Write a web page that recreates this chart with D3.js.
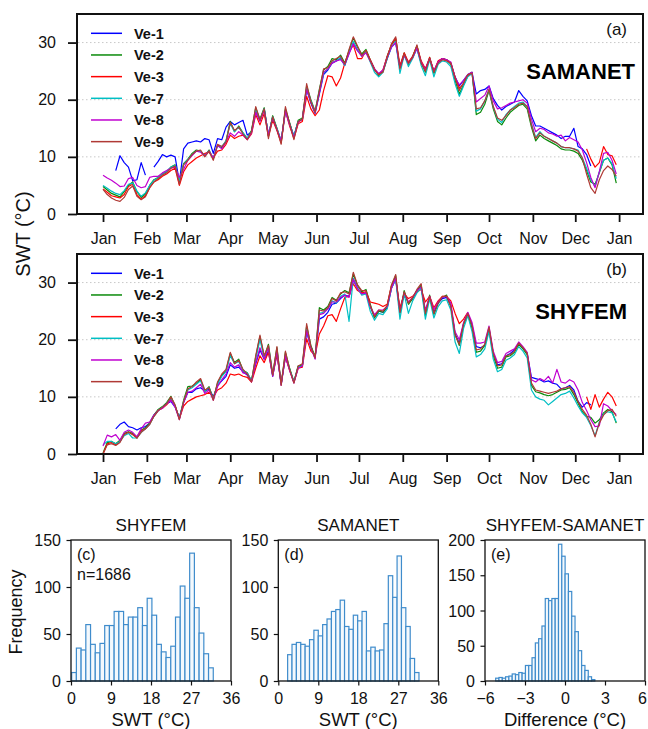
<!DOCTYPE html>
<html><head><meta charset="utf-8">
<script src="https://cdn.jsdelivr.net/npm/d3@7"></script>
<style>
body{margin:0;background:#fff;}
svg{font-family:"Liberation Sans",Arial,sans-serif;}
</style>
</head><body>
<svg id="chart" width="648" height="729"></svg>
<script>
// ---------------- DATA ----------------
const stations = ["Ve-1","Ve-2","Ve-3","Ve-7","Ve-8","Ve-9"];
const stationColors = ["#0000ff","#0a8a0a","#ff0000","#00bfc4","#c000d0","#b03a35"];
const monthStartDays = [0,31,59,90,120,151,181,212,243,273,304,334,365];
const monthLabels = ["Jan","Feb","Mar","Apr","May","Jun","Jul","Aug","Sep","Oct","Nov","Dec","Jan"];
const sampleDays = d3.range(0, 364, 3); // one value every 3 days
const tsTicks = [0,10,20,30];

// SAMANET (a)
const samanetVe1 = [
null,null,null,7.6,10.2,9.0,8.2,5.8,6.0,9.0,
6.8,null,8.2,9.2,10.4,10.0,10.3,10.0,5.6,11.4,
12.4,12.6,12.8,12.6,13.2,13.0,10.6,13.2,13.0,15.2,
16.2,15.6,16.0,16.4,13.8,14.4,18.0,16.4,18.4,13.8,
17.0,14.8,12.8,18.2,15.8,13.6,16.2,16.6,21.8,19.4,
17.6,21.0,24.4,25.2,26.4,26.8,27.2,26.0,28.2,29.8,
28.6,27.8,28.4,26.8,25.2,24.4,25.0,27.2,29.2,30.0,
25.6,27.8,26.4,27.4,29.0,26.4,25.4,27.2,25.0,26.6,
27.2,27.0,26.4,24.0,22.4,23.4,24.4,24.8,21.0,21.6,
21.8,22.4,20.2,19.0,18.2,18.8,19.2,19.6,21.6,20.6,
19.8,17.2,15.4,15.4,15.0,14.6,14.2,13.8,13.2,13.6,
13.6,15.0,11.8,11.4,10.4,8.4,null,null,null,null,
null,null];
const samanetVe2 = [
4.8,4.2,3.6,3.3,3.0,3.9,5.0,5.6,3.9,2.9,
3.5,5.0,6.0,6.4,7.0,7.4,8.2,8.6,5.8,8.8,
9.6,10.6,11.2,11.0,10.2,11.2,9.6,12.0,11.6,12.8,
16.2,14.4,15.4,14.2,13.2,14.6,18.6,16.6,18.6,13.6,
17.2,15.0,12.6,18.4,16.0,13.4,16.4,16.8,22.4,20.0,
18.0,21.8,25.2,25.8,27.2,27.0,27.8,26.4,28.6,30.8,
29.2,28.0,28.8,27.0,25.4,24.2,25.0,27.6,29.6,30.6,
25.6,28.2,26.2,27.6,29.4,26.6,24.8,27.4,24.6,26.6,
27.2,27.0,26.2,23.4,21.0,22.6,24.2,24.8,17.4,17.8,
19.2,21.6,18.4,16.2,15.6,16.8,17.8,18.4,19.0,19.2,
18.4,15.2,12.8,13.8,13.2,12.8,12.4,12.0,11.4,11.2,
11.2,11.0,10.6,9.4,7.6,5.6,5.2,7.2,9.4,9.8,
8.6,5.4];
const samanetVe3 = [
4.4,3.8,3.2,3.0,2.8,3.4,4.8,5.2,3.4,2.6,
3.2,4.6,5.6,6.0,6.6,7.0,7.6,8.0,5.0,7.4,
8.6,9.2,9.8,10.2,10.6,10.8,9.8,11.0,11.2,12.2,
13.8,13.2,13.6,13.8,13.0,14.0,17.4,15.6,17.6,13.6,
16.4,14.6,12.4,18.0,15.4,13.2,15.8,16.2,20.6,18.4,
17.2,18.2,21.6,24.2,24.0,22.4,23.8,26.4,28.4,29.6,
27.2,27.2,28.6,27.0,25.4,24.4,25.2,27.6,29.6,30.8,
26.0,28.2,26.6,27.6,29.4,26.8,25.4,27.4,25.0,26.8,
27.2,27.0,26.4,24.0,22.0,22.8,24.2,24.8,null,null,
null,null,null,null,null,null,null,null,null,null,
null,null,null,null,null,null,null,null,null,null,
null,null,null,null,11.4,9.6,8.2,9.0,11.8,10.4,
10.2,8.6];
const samanetVe7 = [
5.0,4.5,4.0,3.6,3.4,4.1,5.2,5.4,4.0,3.1,
3.7,5.0,5.9,6.4,7.0,7.5,8.2,8.5,5.8,8.7,
9.5,10.4,11.0,11.0,10.2,11.0,9.8,12.0,11.8,12.8,
15.8,14.4,15.2,14.2,13.2,14.4,18.2,16.4,18.4,13.8,
17.0,15.0,12.8,18.0,15.8,13.6,16.2,16.6,22.0,19.8,
17.8,21.4,24.6,25.4,26.6,26.8,27.4,26.0,28.2,30.2,
28.8,27.6,28.4,26.6,24.8,24.0,24.8,27.2,29.2,30.2,
24.6,27.8,25.8,27.2,29.0,26.0,24.2,27.0,24.0,26.2,
26.8,26.6,25.8,22.8,20.6,22.4,24.0,24.6,18.0,18.4,
19.8,21.8,18.8,16.6,16.0,17.4,18.2,18.8,19.4,19.6,
18.8,15.8,13.4,14.4,13.6,13.2,12.8,12.4,11.8,11.6,
11.6,11.4,11.2,9.8,8.0,6.0,4.8,7.4,9.4,9.8,
8.8,6.2];
const samanetVe8 = [
6.8,6.3,5.9,5.4,4.8,4.9,6.2,6.4,5.0,4.6,
4.8,6.4,6.6,6.6,7.2,7.6,8.0,8.2,6.4,7.8,
9.4,10.2,11.0,10.8,10.2,11.0,9.8,12.0,11.4,12.6,
14.2,13.6,14.4,13.8,13.0,14.2,17.8,16.2,18.2,13.8,
16.8,14.8,12.8,18.0,15.6,13.4,16.0,16.6,21.8,19.6,
17.8,21.2,24.8,25.4,26.4,26.8,27.0,26.2,28.0,29.8,
28.6,27.6,28.2,26.8,25.4,24.6,25.2,27.4,29.2,30.0,
25.6,27.8,26.4,27.4,29.0,26.6,25.2,27.2,25.0,26.6,
27.2,27.0,26.6,23.8,22.6,23.4,24.4,24.8,19.6,20.2,
20.8,22.4,19.8,18.4,18.6,19.0,19.4,19.6,19.8,20.0,
19.4,16.6,14.4,15.0,14.8,14.2,14.0,13.6,13.8,12.8,
13.4,13.0,12.6,11.2,9.0,6.4,4.6,7.4,10.6,10.8,
9.4,7.0];
const samanetVe9 = [
4.3,3.4,2.8,2.4,2.2,2.9,4.3,4.9,3.1,2.5,
3.0,4.6,5.6,6.2,6.8,7.2,8.0,8.4,5.2,8.6,
9.4,10.4,11.0,11.2,10.0,11.0,9.4,12.2,11.8,12.6,
16.0,14.6,15.2,14.0,13.0,14.4,18.8,16.4,18.4,13.2,
17.0,14.8,12.2,18.8,15.8,13.0,16.2,16.6,22.8,19.6,
17.8,21.6,25.4,25.6,26.8,27.2,27.6,26.2,28.8,31.0,
29.4,27.8,28.6,26.8,25.2,24.4,24.8,27.4,29.8,31.0,
25.4,28.0,26.4,27.4,29.6,26.4,25.0,27.2,24.8,26.4,
27.0,26.8,26.4,23.8,21.6,23.0,24.4,24.6,18.4,18.6,
19.8,21.8,18.8,16.8,16.4,17.2,18.2,18.6,19.2,19.4,
18.8,15.6,13.2,14.2,13.6,13.2,12.8,12.4,11.8,11.6,
11.6,11.4,11.0,9.8,7.0,4.6,3.6,6.0,7.6,8.4,
7.8,6.6];

// SHYFEM (b)
const shyfemVe1 = [
null,null,null,4.4,5.2,5.6,4.8,4.6,4.2,4.6,
4.8,5.4,6.8,7.6,8.2,8.8,9.2,8.2,6.4,9.0,
10.8,10.8,11.4,11.6,11.0,11.4,10.0,12.0,12.8,13.6,
15.6,15.0,15.2,14.4,13.8,12.8,15.8,18.2,16.6,18.0,
13.6,17.6,12.2,17.0,14.8,12.6,15.2,15.4,21.4,18.8,
16.8,23.6,24.0,24.8,26.2,26.4,27.2,27.8,27.6,30.4,
29.0,28.0,28.2,25.8,24.0,25.0,24.8,25.6,29.0,30.6,
24.8,28.2,26.4,27.2,28.6,29.2,24.8,27.4,24.8,26.4,
27.2,27.4,26.0,21.0,19.4,22.8,24.6,22.6,18.8,18.6,
19.0,21.8,17.6,15.6,15.8,17.2,17.6,18.2,19.4,18.6,
17.6,13.4,13.2,13.0,12.6,12.8,12.4,12.2,11.4,11.6,
12.0,11.2,9.2,8.2,9.0,8.6,null,null,null,null,
null,null];
const shyfemVe2 = [
0.2,2.0,2.2,1.8,2.4,3.6,3.9,3.6,3.0,4.2,
4.6,5.4,6.8,7.8,8.3,9.0,10.1,8.4,6.2,9.4,
11.8,11.9,12.4,13.0,11.0,11.8,9.6,12.4,13.8,14.6,
17.6,16.0,16.6,14.6,14.2,12.8,17.0,20.6,17.0,19.2,
14.0,18.6,12.2,17.8,15.0,12.6,15.4,15.6,22.4,19.0,
17.0,25.6,25.2,25.8,27.4,26.9,28.0,28.6,28.2,31.5,
29.5,28.4,28.8,26.2,23.8,25.0,24.8,25.8,29.4,31.2,
24.6,28.6,26.2,27.2,28.6,29.6,24.2,27.8,24.4,26.4,
27.4,27.8,25.8,21.0,19.0,22.6,24.4,22.0,17.8,18.0,
19.0,22.0,17.2,15.0,15.2,17.0,17.2,17.8,19.2,18.4,
17.4,12.0,10.9,10.7,10.4,10.2,10.4,10.8,11.2,11.3,
11.6,10.4,8.9,7.4,6.6,6.4,5.4,6.0,7.2,7.8,
7.4,5.4];
const shyfemVe3 = [
0.0,1.8,2.0,1.6,2.2,3.4,3.8,3.4,2.8,4.0,
4.4,5.2,6.6,7.6,8.0,8.6,9.6,8.4,6.2,8.4,
9.2,9.6,10.0,10.2,10.4,10.8,10.0,11.2,11.6,12.4,
14.0,13.8,14.0,13.6,13.4,12.6,15.0,17.2,16.0,17.8,
13.8,17.4,12.4,17.0,14.6,12.6,15.0,15.2,20.2,18.0,
17.2,21.0,22.4,24.2,24.4,23.2,25.4,27.4,27.6,29.8,
28.6,28.2,28.4,26.6,26.4,26.2,25.8,26.2,29.4,30.6,
25.6,28.0,27.2,27.6,28.4,28.8,26.6,27.6,25.6,26.8,
27.6,27.6,26.8,24.6,22.8,23.6,24.8,null,null,null,
null,null,null,null,null,null,null,null,null,null,
null,null,null,null,null,null,null,null,null,null,
null,null,null,null,10.0,7.8,10.4,8.2,9.6,10.8,
10.0,8.4];
const shyfemVe7 = [
1.6,2.2,2.2,1.8,2.2,3.2,3.6,2.8,2.8,3.8,
4.4,5.2,6.6,7.6,8.2,8.8,9.8,8.4,6.2,9.2,
11.2,11.6,12.2,12.8,11.0,11.6,9.6,12.2,13.6,14.4,
17.2,15.8,16.2,14.6,14.2,12.8,16.6,20.0,16.8,18.8,
13.8,18.2,12.2,17.4,14.8,12.6,15.2,15.4,21.8,18.6,
16.8,24.6,24.8,25.4,26.8,26.4,27.6,28.0,23.2,30.8,
29.0,27.8,28.0,25.0,23.4,24.6,24.4,25.4,29.0,30.6,
23.6,28.0,24.6,26.8,28.2,29.0,23.6,27.2,23.8,25.8,
26.8,27.0,25.2,19.6,17.6,22.0,24.2,21.4,17.0,17.4,
18.4,21.4,16.6,14.4,14.8,16.4,16.8,17.4,18.8,18.0,
16.8,11.2,10.0,9.6,9.4,8.6,9.2,9.8,10.4,10.6,
11.0,9.8,8.4,7.2,6.4,5.0,3.2,5.6,7.0,7.4,
7.2,5.6];
const shyfemVe8 = [
1.4,3.3,3.0,3.4,2.4,3.8,4.2,3.8,3.0,4.4,
5.4,5.6,6.8,7.6,8.0,8.8,9.4,8.2,6.0,9.0,
10.8,11.0,11.6,12.2,10.6,11.2,9.4,11.8,13.0,14.0,
16.0,15.2,15.6,14.2,14.0,12.6,16.0,18.6,16.6,18.6,
13.6,18.0,12.0,17.2,14.6,12.4,15.0,15.4,21.6,18.6,
16.6,24.4,24.6,25.4,26.6,26.6,27.4,27.8,27.4,30.6,
29.0,28.0,28.2,25.8,24.4,25.2,25.2,25.8,29.0,30.8,
25.0,28.2,26.6,27.4,28.6,29.2,25.2,27.6,25.2,26.6,
27.4,27.6,26.4,21.4,20.0,23.0,24.8,23.0,19.4,19.4,
19.6,22.4,18.0,16.0,16.2,17.6,18.0,18.4,19.6,18.8,
17.8,13.0,12.6,13.2,12.8,13.6,12.4,14.8,12.6,12.4,
13.0,12.6,11.2,9.0,7.6,6.0,4.8,4.9,8.8,8.4,
7.6,6.9];
const shyfemVe9 = [
0.0,1.6,1.8,1.5,2.0,3.4,3.8,3.4,2.8,3.8,
4.4,5.2,6.6,7.6,8.2,8.8,10.0,8.6,6.0,9.2,
11.4,11.8,12.6,13.2,11.2,11.6,9.4,12.6,14.0,14.8,
17.8,15.8,16.4,14.8,14.0,12.6,17.2,20.8,17.2,19.0,
13.8,18.8,12.0,18.0,14.8,12.4,15.4,15.8,22.8,18.8,
16.8,25.2,25.0,25.6,27.2,26.8,28.2,28.4,28.0,31.8,
29.6,28.6,28.6,26.0,24.0,25.2,25.0,26.0,29.6,31.4,
24.8,28.4,26.4,27.4,28.8,29.8,24.6,27.6,24.6,26.4,
27.6,27.6,25.8,20.8,19.2,22.8,24.6,22.4,18.2,18.4,
19.2,22.2,17.6,15.4,15.6,17.2,17.4,18.0,19.4,18.6,
17.6,12.4,11.2,11.0,10.8,10.6,10.8,11.0,11.4,11.6,
11.8,10.8,9.2,7.8,6.8,5.2,3.0,5.4,6.8,7.6,
7.8,6.6];

// Histograms (counts per bin)
const shyfemCounts = [9,35,33,60,39,30,40,59,59,74,74,60,68,68,78,59,88,70,39,31,25,37,68,101,88,136,78,51,29,14];
const shyfemBinStart = 0.15, shyfemBinWidth = 1.062;
const samanetCounts = [28,39,41,39,37,44,54,48,60,66,74,76,86,58,55,70,64,74,32,36,32,33,61,112,89,133,78,58,24,9];
const samanetBinStart = 2.1, samanetBinWidth = 0.985;
const diffCounts = [4,5,4,6,7,10,9,12,11,22,22,33,54,60,78,117,114,117,117,194,177,152,127,92,70,43,22,15,6,2];
const diffBinStart = -5.2, diffBinWidth = 0.248;
const swtTicks = [0,9,18,27,36];
const diffTicks = [-6,-3,0,3,6];
const freqTicks150 = [0,50,100,150];
const freqTicks200 = [0,50,100,150,200];

// ---------------- DRAWING ----------------
const svg = d3.select("#chart");
const FONT = '"Liberation Sans",Arial,sans-serif';

function styleAxis(sel, fs, sw) {
  sel.selectAll("text").attr("font-size", fs).attr("font-family", FONT).attr("fill", "#111");
  sel.selectAll(".tick line").attr("stroke", "#111").attr("stroke-width", sw);
  sel.select(".domain").remove();
}

function drawTS(top, seriesList, tag, name, nameRight) {
  const x = d3.scaleLinear().domain([-18.4, 381.9]).range([77, 643]);
  const y = d3.scaleLinear().domain([0, 35]).range([top + 200, top]);
  const g = svg.append("g");
  g.append("g").selectAll("line").data(tsTicks.filter(v => v > 0)).join("line")
    .attr("x1", 78).attr("x2", 642).attr("y1", d => y(d)).attr("y2", d => y(d))
    .attr("stroke", "#c8c8c8").attr("stroke-width", 1).attr("stroke-dasharray", "1.5,2.5");
  const line = d3.line().defined(d => d[1] != null).x(d => x(d[0])).y(d => y(d[1]));
  seriesList.forEach((vals, i) => {
    g.append("path").datum(vals.map((v, j) => [sampleDays[j], v]))
      .attr("fill", "none").attr("stroke", stationColors[i]).attr("stroke-width", 1.2)
      .attr("stroke-linejoin", "round").attr("d", line);
  });
  const xa = g.append("g").attr("transform", `translate(0,${top + 200})`)
    .call(d3.axisBottom(x).tickValues(monthStartDays).tickFormat((d, i) => monthLabels[i]).tickSize(8).tickPadding(11));
  styleAxis(xa, 16, 1.8);
  const ya = g.append("g").attr("transform", `translate(77,0)`)
    .call(d3.axisLeft(y).tickValues(tsTicks).tickSize(9).tickPadding(12));
  styleAxis(ya, 16, 1.8);
  g.append("rect").attr("x", 77).attr("y", top).attr("width", 566).attr("height", 200)
    .attr("fill", "none").attr("stroke", "#111").attr("stroke-width", 2);
  // legend
  const lg = g.append("g");
  stations.forEach((s, i) => {
    const cy = top + 19.3 + i * 21.67;
    lg.append("line").attr("x1", 91).attr("x2", 122).attr("y1", cy).attr("y2", cy)
      .attr("stroke", stationColors[i]).attr("stroke-width", 1.5);
    lg.append("text").attr("x", 134).attr("y", cy).attr("dy", "0.36em")
      .attr("font-size", 14.5).attr("font-weight", "bold").attr("fill", "#111").text(s);
  });
  g.append("text").attr("x", 627).attr("y", top + 21).attr("text-anchor", "end")
    .attr("font-size", 17).attr("fill", "#111").text(tag);
  g.append("text").attr("x", nameRight).attr("y", top + 65).attr("text-anchor", "end")
    .attr("font-size", 22).attr("font-weight", "bold").attr("fill", "#000").text(name);
}

drawTS(14, [samanetVe1, samanetVe2, samanetVe3, samanetVe7, samanetVe8, samanetVe9], "(a)", "SAMANET", 635);
drawTS(254, [shyfemVe1, shyfemVe2, shyfemVe3, shyfemVe7, shyfemVe8, shyfemVe9], "(b)", "SHYFEM", 627);

svg.append("text").attr("transform", "translate(23,234) rotate(-90)").attr("text-anchor", "middle")
  .attr("dy", "0.35em").attr("font-size", 20).attr("fill", "#111").text("SWT (°C)");

function drawHist(x0, counts, binStart, binWidth, xDomain, xTicks, yMax, yTicks, title, xLabel, tag, note) {
  const top = 540, bottom = 681;
  const x = d3.scaleLinear().domain(xDomain).range([x0, x0 + 160]);
  const y = d3.scaleLinear().domain([0, yMax]).range([bottom, top]);
  const g = svg.append("g");
  g.append("g").selectAll("rect").data(counts).join("rect")
    .attr("x", (d, i) => x(binStart + i * binWidth))
    .attr("width", (d, i) => x(binStart + (i + 1) * binWidth) - x(binStart + i * binWidth))
    .attr("y", d => y(d)).attr("height", d => bottom - y(d))
    .attr("fill", "#f4f9fd").attr("stroke", "#3f8ccc").attr("stroke-width", 1.2);
  const xa = g.append("g").attr("transform", `translate(0,${bottom})`)
    .call(d3.axisBottom(x).tickValues(xTicks).tickSize(4.5).tickPadding(7.5));
  styleAxis(xa, 16, 1.2);
  // keep the last label inside the picture
  xa.selectAll(".tick text").filter(d => x(d) > 640).attr("dx", -3);
  const ya = g.append("g").attr("transform", `translate(${x0},0)`)
    .call(d3.axisLeft(y).tickValues(yTicks).tickSize(4.5).tickPadding(5.5));
  styleAxis(ya, 16, 1.2);
  ya.selectAll("text").attr("dy", "0.35em");
  g.append("rect").attr("x", x0).attr("y", top).attr("width", 160).attr("height", bottom - top)
    .attr("fill", "none").attr("stroke", "#111").attr("stroke-width", 1.3);
  g.append("text").attr("x", x0 + 80).attr("y", 531).attr("text-anchor", "middle")
    .attr("font-size", 17).attr("fill", "#111").text(title);
  g.append("text").attr("x", x0 + 80).attr("y", 726).attr("text-anchor", "middle")
    .attr("font-size", 18.5).attr("fill", "#111").text(xLabel);
  g.append("text").attr("x", x0 + 6).attr("y", 560).attr("font-size", 16).attr("fill", "#111").text(tag);
  if (note) g.append("text").attr("x", x0 + 6).attr("y", 580).attr("font-size", 16).attr("fill", "#111").text(note);
}

drawHist(71, shyfemCounts, shyfemBinStart, shyfemBinWidth, [0, 36], swtTicks, 150, freqTicks150, "SHYFEM", "SWT (°C)", "(c)", "n=1686");
drawHist(278.3, samanetCounts, samanetBinStart, samanetBinWidth, [0, 36], swtTicks, 150, freqTicks150, "SAMANET", "SWT (°C)", "(d)", null);
drawHist(485, diffCounts, diffBinStart, diffBinWidth, [-6, 6], diffTicks, 200, freqTicks200, "SHYFEM-SAMANET", "Difference (°C)", "(e)", null);

svg.append("text").attr("transform", "translate(16,612) rotate(-90)").attr("text-anchor", "middle")
  .attr("dy", "0.35em").attr("font-size", 18).attr("fill", "#111").text("Frequency");
</script>
</body></html>
